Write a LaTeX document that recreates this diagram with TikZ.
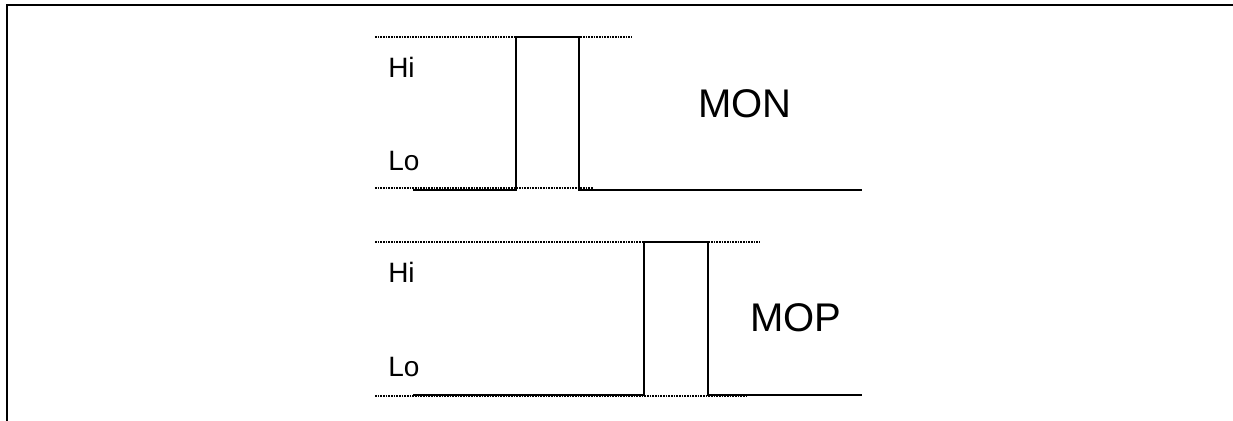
\documentclass[tikz,border=0pt]{standalone}
\usepackage{fontspec}
\setmainfont{Liberation Sans}
\tikzset{
  level/.style={line width=0.8pt, dash pattern=on 1.2pt off 0.8pt},
  signal/.style={line width=1pt},
  levellabel/.style={inner sep=0pt, anchor=west, font=\fontsize{21}{24}\selectfont},
  signame/.style={inner sep=0pt, font=\fontsize{30}{34}\selectfont}
}
\begin{document}
\begin{tikzpicture}[x=0.75pt, y=-0.75pt]
\useasboundingbox (0,0) rectangle (1233,421);
% frame
\draw [line width=1.8pt] (7,421) -- (7,5) -- (1233,5);

% MON
\path (375, 37) coordinate (monhi) (375, 188) coordinate (monlo);
\draw [level] (monhi) -- ++(257, 0);
\draw [level] (monlo) -- ++(218, 0);
\draw [signal]
     (413, 190) coordinate (monstart)
  -- (516, 190) coordinate (monrise)
  -- (516, 37)
  -- (579, 37)
  -- (579, 190) coordinate (monfall)
  -- (862, 190) coordinate (monend);
\node [levellabel] (monhilabel) at (388, 67) {Hi};
\node [levellabel] (monlolabel) at (388, 161) {Lo};
\node [signame] (mon) at (745, 104) {MON};

% MOP
\path (375, 242) coordinate (mophi) (375, 396) coordinate (moplo);
\draw [level] (mophi) -- ++(385, 0);
\draw [level] (moplo) -- ++(372, 0);
\draw [signal]
     (413, 395) coordinate (mopstart)
  -- (644, 395) coordinate (moprise)
  -- (644, 242)
  -- (708, 242)
  -- (708, 395) coordinate (mopfall)
  -- (862, 395) coordinate (mopend);
\node [levellabel] (mophilabel) at (388, 272) {Hi};
\node [levellabel] (moplolabel) at (388, 367) {Lo};
\node [signame] (mop) at (796, 318) {MOP};
\end{tikzpicture}
\end{document}
